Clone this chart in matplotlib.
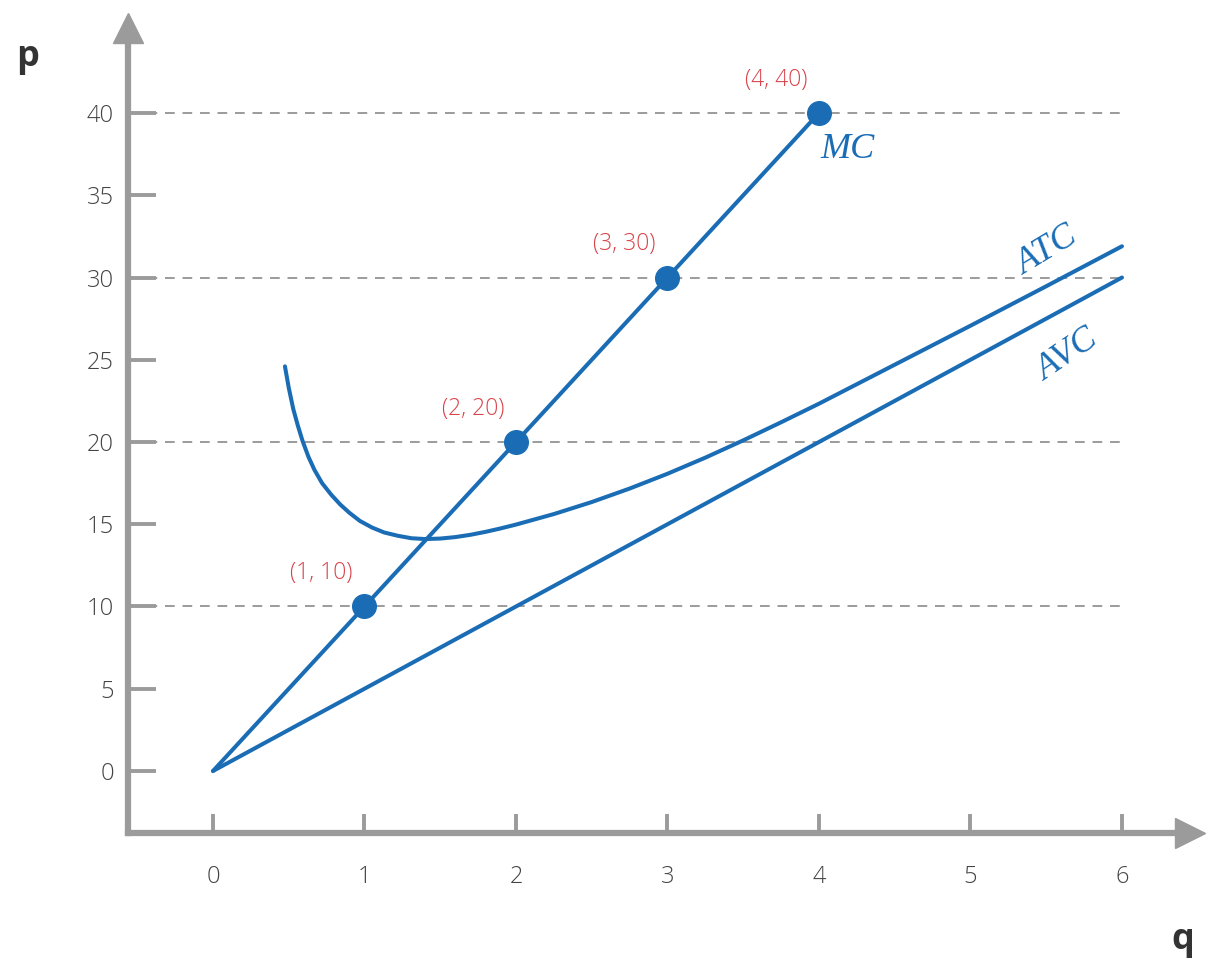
import matplotlib.pyplot as plt

# ==== data ====
mc_q = [0, 1, 2, 3, 4]
mc_p = [0, 10, 20, 30, 40]
pt_q = [1, 2, 3, 4]
pt_p = [10, 20, 30, 40]
pt_labels = ["(1, 10)", "(2, 20)", "(3, 30)", "(4, 40)"]

avc_q = [0, 6]
avc_p = [0, 30]

atc_q = [0.475, 0.50, 0.53, 0.56, 0.59, 0.63, 0.67, 0.72, 0.78, 0.84, 0.90, 0.97, 1.05, 1.13,
         1.22, 1.31, 1.40, 1.50, 1.60, 1.70, 1.80, 1.90, 2.00, 2.25, 2.50, 2.75,
         3.00, 3.25, 3.50, 3.75, 4.00, 4.50, 5.00, 5.50, 6.00]
atc_p = [24.6, 23.3, 22.0, 21.0, 20.1, 19.1, 18.3, 17.5, 16.8, 16.2, 15.7, 15.2, 14.8, 14.5,
         14.3, 14.15, 14.1, 14.13, 14.22, 14.36, 14.54, 14.75, 14.98, 15.62, 16.35, 17.17,
         18.07, 19.05, 20.1, 21.2, 22.33, 24.7, 27.07, 29.47, 31.9]

grid_p = [10, 20, 30, 40]
x_ticks = [0, 1, 2, 3, 4, 5, 6]
y_ticks = [0, 5, 10, 15, 20, 25, 30, 35, 40]

BLUE = '#1a6db5'
RED = '#d9434a'
GREY = '#9b9b9b'
TXT = '#444444'
FONT = 'Open Sans'

fig = plt.figure(figsize=(12.14, 9.61), dpi=100)
ax = fig.add_axes([128/1214, 1-833/961, (1180-128)/1214, (833-40)/961])
ax.set_xlim(-0.561, 6.383)
ax.set_ylim(-3.77, 44.44)

for s in ['top', 'right']:
    ax.spines[s].set_visible(False)
for s in ['left', 'bottom']:
    ax.spines[s].set_color(GREY)
    ax.spines[s].set_linewidth(4.5)

ax.set_xticks(x_ticks)
ax.set_yticks(y_ticks)
ax.tick_params(axis='x', direction='in', length=14, width=2.8, color=GREY, pad=23,
               labelsize=17, labelcolor=TXT)
ax.tick_params(axis='y', direction='in', length=20, width=2.8, color=GREY, pad=10,
               labelsize=17, labelcolor=TXT)
for lab in ax.get_xticklabels() + ax.get_yticklabels():
    lab.set_fontfamily(FONT)
    lab.set_fontweight('light')

# arrow heads
ax.plot([6.449], [-3.77], marker='>', markersize=22, color=GREY, clip_on=False)
ax.plot([-0.561], [45.17], marker='^', markersize=22, color=GREY, clip_on=False)

# dashed guides
for p in grid_p:
    ax.plot([-0.55, 6.0], [p, p], color=GREY, lw=1.4, ls=(0, (5, 4)), zorder=1)

# curves
ax.plot(avc_q, avc_p, color=BLUE, lw=2.9, solid_capstyle='round', zorder=3)
ax.plot(atc_q, atc_p, color=BLUE, lw=2.9, solid_capstyle='round',
        solid_joinstyle='round', zorder=3)
ax.plot(mc_q, mc_p, color=BLUE, lw=2.9, solid_capstyle='round', zorder=3)
ax.plot(pt_q, pt_p, 'o', color=BLUE, markersize=17, zorder=4)

for q, p, lab in zip(pt_q, pt_p, pt_labels):
    ax.annotate(lab, (q, p), xytext=(-31, 24), textcoords='offset points',
                ha='center', va='center', color=RED, fontsize=16.5, fontfamily=FONT,
                fontweight='light')

# curve labels
ax.text(4.19, 37.8, 'MC', color=BLUE, fontsize=26, style='italic',
        fontfamily='Liberation Serif', ha='center', va='center')
ax.text(5.51, 31.6, 'ATC', color=BLUE, fontsize=26, style='italic',
        fontfamily='Liberation Serif', ha='center', va='center', rotation=31)
ax.text(5.644, 25.3, 'AVC', color=BLUE, fontsize=26, style='italic',
        fontfamily='Liberation Serif', ha='center', va='center', rotation=34)

# axis names
fig.text(28/1214, 1-57/961, 'p', fontsize=26, fontweight='bold', color='#333333',
         fontfamily=FONT, ha='center', va='center')
fig.text(1183/1214, 1-940/961, 'q', fontsize=26, fontweight='bold', color='#333333',
         fontfamily=FONT, ha='center', va='center')

fig.savefig('out.png', dpi=100)
